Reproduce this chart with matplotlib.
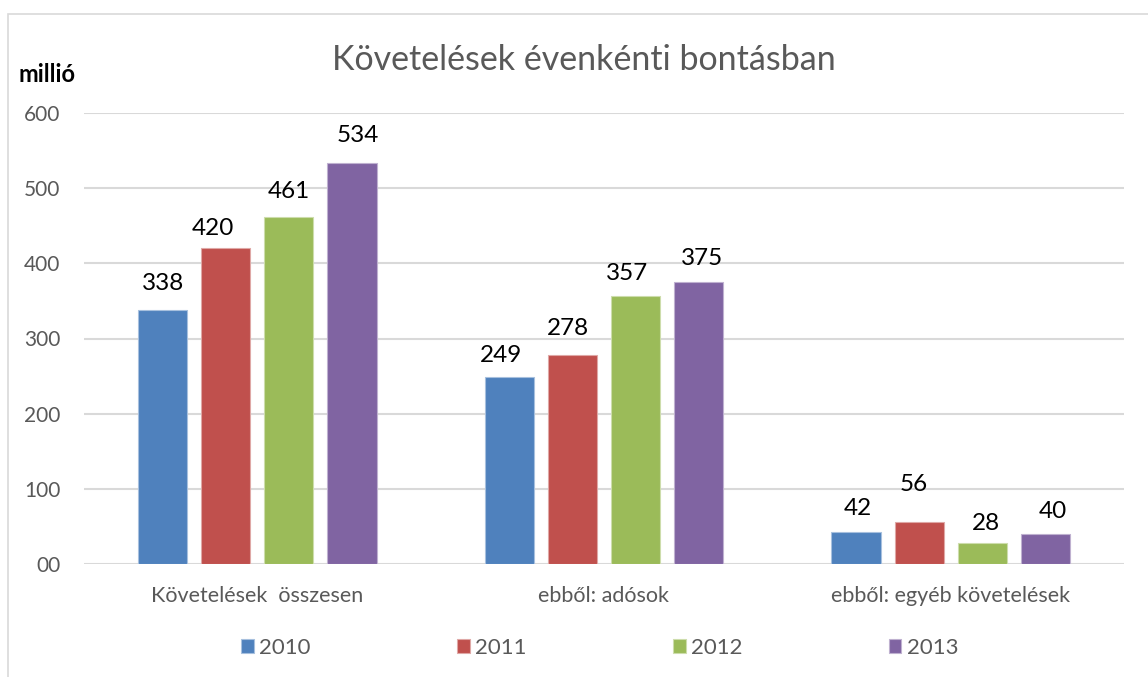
import matplotlib
matplotlib.use("Agg")
import matplotlib.pyplot as plt
import numpy as np
from matplotlib.patches import Rectangle

plt.rcParams['font.family'] = ['Lato', 'DejaVu Sans']

categories = ["Követelések  összesen", "ebből: adósok", "ebből: egyéb követelések"]
years = ["2010", "2011", "2012", "2013"]
values = {
    "2010": [338, 249, 42],
    "2011": [420, 278, 56],
    "2012": [461, 357, 28],
    "2013": [534, 375, 40],
}
yticks = [0, 100, 200, 300, 400, 500, 600]
ytick_labels = ["00", "100", "200", "300", "400", "500", "600"]
colors = ["#4F81BD", "#C0504D", "#9BBB59", "#8064A2"]
edge_colors = ["#A7C0DE", "#DFA8A6", "#CDDDAC", "#BFB1D0"]
# label nudges (pixels) per year per category, mimicking the reference placement
label_dx = {"2010": [0, -8, 2], "2011": [-13, -5, -5], "2012": [0, -8, 4], "2013": [6, 3, 8]}
label_dy = {"2010": [26, 21, 24], "2011": [20, 27, 37], "2012": [26, 22, 19], "2013": [27, 24, 22]}

W, H = 1148, 677
fig = plt.figure(figsize=(W / 100, H / 100), dpi=100)
ax = fig.add_axes([84 / W, 1 - 564 / H, (1124 - 84) / W, (564 - 113) / H])

x = np.arange(len(categories))
bw = 0.1415
step = 0.182
for i, yr in enumerate(years):
    pos = x + (i - 1.5) * step
    bars = ax.bar(pos, values[yr], width=bw, color=colors[i], edgecolor=edge_colors[i],
                  linewidth=0.8, label=yr, zorder=3)
    for j, b in enumerate(bars):
        ax.annotate(str(values[yr][j]), (b.get_x() + b.get_width() / 2, b.get_height()),
                    xytext=(label_dx[yr][j] * 0.72, label_dy[yr][j] * 0.72),
                    textcoords="offset points", ha="center", va="center",
                    fontsize=17.5, color="black", zorder=4)

ax.set_xlim(-0.5, len(categories) - 0.5)
ax.set_ylim(0, 600)
ax.set_yticks(yticks)
ax.set_yticklabels(ytick_labels)
ax.set_xticks(x)
ax.set_xticklabels(categories)
ax.tick_params(axis='y', length=0, pad=17, labelsize=15, labelcolor="#595959")
ax.tick_params(axis='x', length=0, pad=16, labelsize=15.5, labelcolor="#595959")
ax.grid(axis='y', color="#D9D9D9", linewidth=1.5, zorder=0)
ax.set_axisbelow(True)
for s in ax.spines.values():
    s.set_visible(False)

fig.text(584 / W, 1 - 60 / H, "Követelések évenkénti bontásban",
         ha="center", va="center", fontsize=24.5, color="#595959")
fig.text(18 / W, 1 - 75 / H, "millió", ha="left", va="center", fontsize=17,
         fontweight="bold", color="black")

fig.patches.append(Rectangle((8 / W, -0.1), 1.2, 1 - 14 / H + 0.1, transform=fig.transFigure,
                             fill=False, edgecolor="#D9D9D9", linewidth=1.2))

handles, labels = ax.get_legend_handles_labels()
leg = fig.legend(handles, labels, loc="center", bbox_to_anchor=(600 / W, 1 - 648 / H), ncol=4,
                 frameon=False, fontsize=16, handlelength=0.55, handleheight=0.55,
                 handletextpad=0.25, columnspacing=6.6, labelcolor="#595959")

fig.savefig("out.png", dpi=100)
